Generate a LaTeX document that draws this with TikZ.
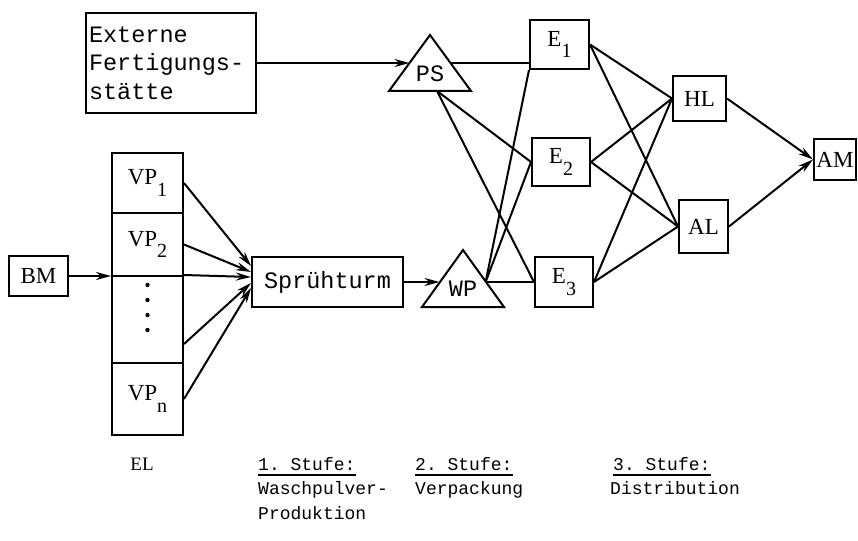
\documentclass[tikz,border=0pt]{standalone}
\usepackage{fontspec}
\setmainfont{Liberation Serif}
\setmonofont{Liberation Mono}
\usetikzlibrary{arrows.meta}

\newcommand{\lowidx}[1]{\raisebox{-0.5em}{\fontsize{20}{20}\selectfont #1}}
\newcommand{\bigtt}{\ttfamily\fontsize{23.5}{28.5}\selectfont}
\newcommand{\smalltt}{\ttfamily\fontsize{18}{25}\selectfont}
\newcommand{\lblfont}{\fontsize{23}{25}\selectfont}

\tikzset{
  box/.style={draw, line width=2pt, inner sep=0pt, font=\lblfont},
  link/.style={line width=2pt},
  arr/.style={link, -{Stealth[length=15pt,width=8pt]}},
  stage/.style={inner sep=0pt, anchor=base west, font=\smalltt},
}

\begin{document}
\begin{tikzpicture}[x=1pt,y=-1pt]
    \useasboundingbox (0,0) rectangle (858,540);

    % externe Fertigung und PS
    \node [box, minimum width=170pt, minimum height=100pt, text width=164pt,
           inner xsep=3pt, align=left, font=\bigtt] (ext) at (171,63)
          {Externe\\Fertigungs-\\stätte};
    \coordinate (psl) at (389,91);
    \coordinate (pst) at (430,35);
    \coordinate (psr) at (471,91);
    \coordinate (psin) at (409.5,63);
    \coordinate (psout) at (450.5,63);
    \coordinate (psfoot) at (437,91);
    \draw [link] (psl) -- (pst) -- (psr) -- cycle;
    \node [font=\bigtt] (ps) at (430,74) {PS};

    % Eingangslager
    \node [box, minimum width=59pt, minimum height=40pt] (bm) at (38.5,276) {BM};
    \node [box, minimum width=71pt, minimum height=60pt] (vp1) at (147.5,183) {VP\lowidx{1}};
    \node [box, minimum width=71pt, minimum height=63pt] (vp2) at (147.5,244.5) {VP\lowidx{2}};
    \node [box, minimum width=71pt, minimum height=87pt] (vpd) at (147.5,319.5) {};
    \node [box, minimum width=71pt, minimum height=72pt] (vpn) at (147.5,399) {VP\lowidx{n}};
    \foreach \y in {285,300,315,330}
        \fill (147.5,\y) circle (2.2pt);

    % Spruehturm und WP
    \node [box, minimum width=151pt, minimum height=50pt, font=\bigtt] (spr) at (327.5,282) {Sprühturm};
    \coordinate (wpl) at (422,307);
    \coordinate (wpt) at (463,250);
    \coordinate (wpr) at (504,307);
    \coordinate (wpin) at (439.5,282);
    \coordinate (wpout) at (485.6,282);
    \draw [link] (wpl) -- (wpt) -- (wpr) -- cycle;
    \node [font=\bigtt] (wp) at (463,289) {WP};

    % Verpackung und Distribution
    \node [box, minimum width=59pt, minimum height=49pt] (e1) at (559.5,44.5) {E\lowidx{1}};
    \node [box, minimum width=58pt, minimum height=48pt] (e2) at (561,162) {E\lowidx{2}};
    \node [box, minimum width=58pt, minimum height=50pt] (e3) at (564,282) {E\lowidx{3}};
    \node [box, minimum width=53pt, minimum height=45pt] (hl) at (699.5,98.5) {HL};
    \node [box, minimum width=49pt, minimum height=53pt] (al) at (703.5,226.5) {AL};
    \node [box, minimum width=42pt, minimum height=41pt] (am) at (835,159.5) {AM};

    \draw [arr] (bm.east) -- (bm.east -| vp1.west);
    \draw [arr] (vp1.east) -- ([yshift=16pt]spr.west);
    \draw [arr] (vp2.east) -- ([yshift=10pt]spr.west);
    \draw [arr] (vpd.north east) -- ([yshift=5pt]spr.west);
    \draw [arr] ([yshift=20pt]vpd.south east) -- ([yshift=-1pt]spr.west);
    \draw [arr] (vpn.east) -- ([yshift=-6pt]spr.west);
    \draw [arr] (spr.east) -- (wpin);
    \draw [arr] (ext.east) -- (psin);

    \draw [link] (psout) -- (psout -| e1.west);
    \draw [link] (psfoot) -- (e2.west);
    \draw [link] (psfoot) -- (e3.west);
    \draw [link] (wpout) -- (e1.south west);
    \draw [link] (wpout) -- (e2.west);
    \draw [link] (wpout) -- (e3.west);
    \foreach \e in {e1,e2,e3} {
        \draw [link] (\e.east) -- (hl.west);
        \draw [link] (\e.east) -- (al.west);
    }
    \draw [arr] (hl.east) -- (am.west);
    \draw [arr] (al.east) -- (am.west);

    % Stufen
    \node [inner sep=0pt, anchor=base, font=\fontsize{19}{21}\selectfont] (el) at (142,470) {EL};
    \node [stage] (st1a) at (258,470) {1. Stufe:};
    \node [stage] (st1b) at (258,494) {Waschpulver-};
    \node [stage] (st1c) at (258,519) {Produktion};
    \node [stage] (st2a) at (415,470) {2. Stufe:};
    \node [stage] (st2b) at (415,494) {Verpackung};
    \node [stage] (st3a) at (613,470) {3. Stufe:};
    \node [stage] (st3b) at (610,494) {Distribution};
    \foreach \s in {st1a,st2a,st3a}
        \draw [line width=1.2pt] ([yshift=-5pt]\s.base west) -- ([yshift=-5pt]\s.base east);
\end{tikzpicture}
\end{document}
